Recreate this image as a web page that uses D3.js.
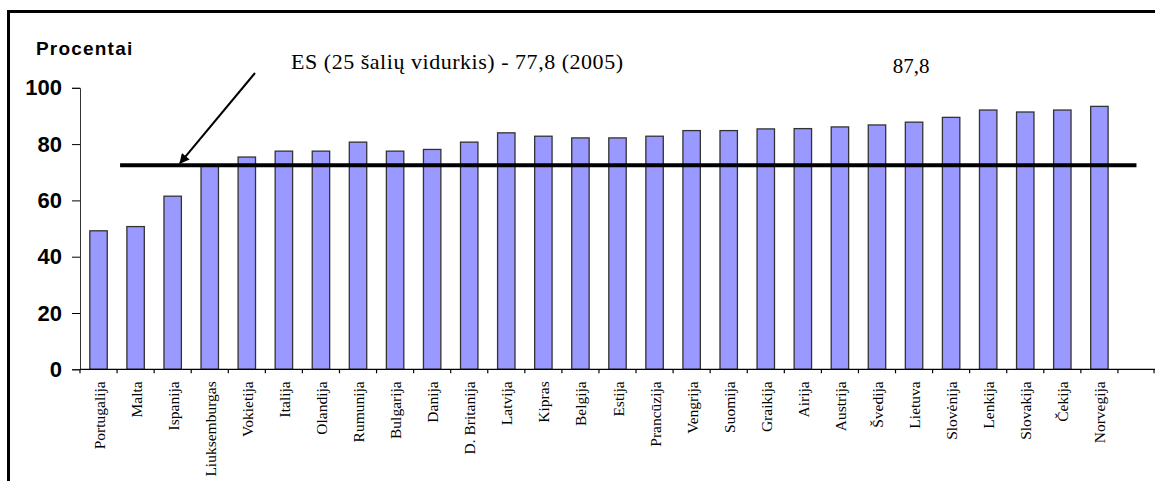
<!DOCTYPE html>
<html>
<head>
<meta charset="utf-8">
<script src="https://cdn.jsdelivr.net/npm/d3@7"></script>
<style>
  body { margin: 0; background: #fff; }
  svg { display: block; }
</style>
</head>
<body>
<svg id="chart" width="1155" height="481"></svg>
<script>
    // countries (last slot is empty in the original chart)
    var countries = ["Portugalija", "Malta", "Ispanija", "Liuksemburgas", "Vokietija", "Italija",
        "Olandija", "Rumunija", "Bulgarija", "Danija", "D. Britanija", "Latvija", "Kipras",
        "Belgija", "Estija", "Prancūzija", "Vengrija", "Suomija", "Graikija", "Airija",
        "Austrija", "Švedija", "Lietuva", "Slovėnija", "Lenkija", "Slovakija", "Čekija",
        "Norvegija", ""];

    var values = [49.2, 50.7, 61.5, 72.3, 75.4, 77.5, 77.5, 80.7, 77.5, 78.1, 80.7, 84.0,
        82.8, 82.2, 82.2, 82.8, 84.8, 84.8, 85.4, 85.5, 86.1, 86.8, 87.8, 89.5, 92.1,
        91.4, 92.1, 93.4];

    var yTicks = [0, 20, 40, 60, 80, 100];

    var avgLine = 72.5;
    var avgText = "ES (25 šalių vidurkis) - 77,8 (2005)";
    var markCountry = "Lietuva";
    var markText = "87,8";

    var svg = d3.select("#chart"),
        width = +svg.attr("width"),
        height = +svg.attr("height");

    var x = d3.scaleBand()
        .domain(countries)
        .range([80, 1155])
        .padding(0);

    var y = d3.scaleLinear()
        .domain([0, 100])
        .range([369.3, 87.8]);

    var barW = x.bandwidth() * 0.47;

    // frame
    svg.append("path")
        .attr("d", "M 8.5," + height + " L 8.5,11.5 L " + width + ",11.5")
        .attr("fill", "none")
        .attr("stroke", "#000")
        .attr("stroke-width", 3);

    // y axis
    var yAxis = svg.append("g")
        .attr("transform", "translate(80,0)")
        .call(d3.axisLeft(y).tickValues(yTicks).tickSize(8).tickPadding(10));
    yAxis.select(".domain").attr("stroke", "#333");
    yAxis.selectAll("text")
        .attr("font-family", "Arial, 'Liberation Sans', sans-serif")
        .attr("font-weight", "bold")
        .attr("font-size", 22)
        .attr("fill", "#000");

    svg.append("text")
        .attr("x", 36)
        .attr("y", 55)
        .attr("font-family", "Arial, 'Liberation Sans', sans-serif")
        .attr("font-weight", "bold")
        .attr("font-size", 19)
        .attr("letter-spacing", 1.2)
        .text("Procentai");

    // bars
    svg.selectAll(".bar")
        .data(values)
        .enter()
        .append("rect")
        .attr("class", "bar")
        .attr("x", function (d, i) {return x(countries[i]) + (x.bandwidth() - barW) / 2;})
        .attr("y", function (d) {return y(d);})
        .attr("width", barW)
        .attr("height", function (d) {return y(0) - y(d);})
        .attr("fill", "#9999ff")
        .attr("stroke", "#333")
        .attr("stroke-width", 1.3);

    // x axis line + ticks at band edges
    svg.append("line")
        .attr("x1", 80).attr("x2", width)
        .attr("y1", y(0)).attr("y2", y(0))
        .attr("stroke", "#000").attr("stroke-width", 1.2);

    var edges = countries.map(function (c) {return x(c);}).concat([x.range()[1] - 1]);
    svg.selectAll(".xtick")
        .data(edges)
        .enter()
        .append("line")
        .attr("class", "xtick")
        .attr("x1", function (d) {return d;})
        .attr("x2", function (d) {return d;})
        .attr("y1", y(0))
        .attr("y2", y(0) + 4)
        .attr("stroke", "#000")
        .attr("stroke-width", 1.2);

    svg.selectAll(".xlabel")
        .data(countries)
        .enter()
        .append("text")
        .attr("class", "xlabel")
        .attr("transform", function (d) {
            return "translate(" + (x(d) + x.bandwidth() / 2 + 6) + "," + (y(0) + 12) + ") rotate(-90)";
        })
        .attr("text-anchor", "end")
        .attr("font-family", "'Times New Roman', 'Liberation Serif', serif")
        .attr("font-size", 15.5)
        .text(function (d) {return d;});

    // average line
    var lineY = y(avgLine);
    svg.append("line")
        .attr("x1", x(countries[1]) + 3)
        .attr("x2", x(countries[countries.length - 1]) + x.bandwidth() / 2)
        .attr("y1", lineY).attr("y2", lineY)
        .attr("stroke", "#000")
        .attr("stroke-width", 4);

    // arrow
    svg.append("defs").append("marker")
        .attr("id", "arrowhead")
        .attr("viewBox", "0 -5 10 10")
        .attr("refX", 9)
        .attr("refY", 0)
        .attr("orient", "auto")
        .attr("markerUnits", "userSpaceOnUse")
        .attr("markerWidth", 12)
        .attr("markerHeight", 10)
        .append("path")
        .attr("d", "M 0,-5 L 10,0 L 0,5 Z")
        .attr("fill", "#000");

    svg.append("line")
        .attr("x1", 255).attr("y1", 73)
        .attr("x2", 180).attr("y2", lineY - 2)
        .attr("stroke", "#000")
        .attr("stroke-width", 2)
        .attr("marker-end", "url(#arrowhead)");

    svg.append("text")
        .attr("x", 291)
        .attr("y", 69)
        .attr("font-family", "'Times New Roman', 'Liberation Serif', serif")
        .attr("font-size", 22)
        .attr("textLength", 332)
        .attr("lengthAdjust", "spacing")
        .text(avgText);

    svg.append("text")
        .attr("x", x(markCountry) + x.bandwidth() / 2 - 3)
        .attr("y", 73)
        .attr("text-anchor", "middle")
        .attr("font-family", "'Times New Roman', 'Liberation Serif', serif")
        .attr("font-size", 21)
        .text(markText);
</script>
</body>
</html>
